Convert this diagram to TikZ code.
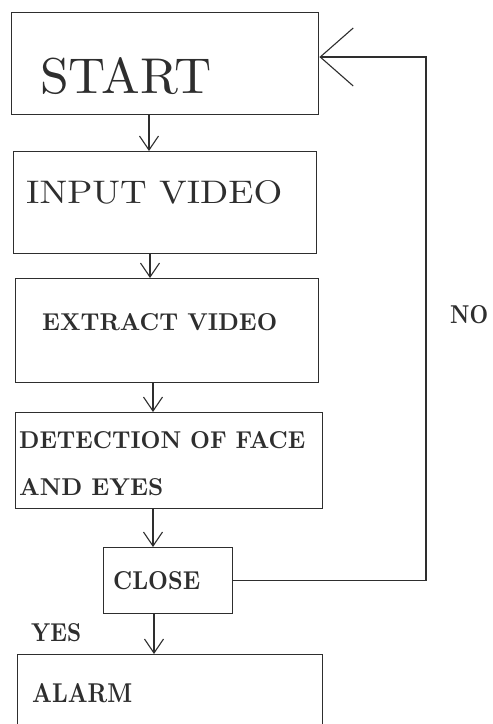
\documentclass[tikz,border=0pt]{standalone}
\usetikzlibrary{arrows.meta}
\definecolor{ink}{HTML}{2E2E2E}
% fit a one-line caption into a given width and cap height
\newcommand{\fitcap}[3]{\resizebox{#1pt}{#2pt}{#3}}
\tikzset{
  box/.style={draw=ink, line width=1.4pt, anchor=north west, inner sep=0pt},
  lbl/.style={anchor=base west, inner sep=0pt, text=ink},
  arr/.style={draw=ink, line width=1.3pt, -{Straight Barb[length=14pt,width=19pt,line width=1.1pt]}},
  backarr/.style={draw=ink, line width=1.3pt, -{Straight Barb[length=33pt,width=58pt,line width=1.1pt]}}
}
\begin{document}
\begin{tikzpicture}[x=1pt,y=-1pt]
  \clip (0,0) rectangle (493,724);
  \fill[white] (0,0) rectangle (493,724);

  % process boxes
  \node[box, minimum width=307pt, minimum height=102pt] (start)   at (11,12)  {};
  \node[box, minimum width=303pt, minimum height=102pt] (input)   at (13,151) {};
  \node[box, minimum width=303pt, minimum height=104pt] (extract) at (15,278) {};
  \node[box, minimum width=307pt, minimum height=96pt]  (detect)  at (15,412) {};
  \node[box, minimum width=129pt, minimum height=66pt]  (close)   at (103,547) {};
  \node[box, minimum width=305pt, minimum height=80pt]  (alarm)   at (17,654) {};

  % captions
  \node[lbl] (tstart)   at (40,93)   {\fitcap{171}{36}{START}};
  \node[lbl] (tinput)   at (26,203)  {\fitcap{256}{23}{INPUT VIDEO}};
  \node[lbl] (textract) at (42,330)  {\fitcap{235}{17}{\bfseries EXTRACT VIDEO}};
  \node[lbl] (tdet1)    at (19,448)  {\fitcap{286}{17}{\bfseries DETECTION OF FACE}};
  \node[lbl] (tdet2)    at (19,495)  {\fitcap{144}{17}{\bfseries AND EYES}};
  \node[lbl] (tclose)   at (113,589) {\fitcap{87}{18}{\bfseries CLOSE}};
  \node[lbl] (tyes)     at (31,641)  {\fitcap{50}{18}{\bfseries YES}};
  \node[lbl] (talarm)   at (32,702)  {\fitcap{100}{19}{\bfseries ALARM}};
  \node[lbl] (tno)      at (450,323) {\fitcap{38}{18}{\bfseries NO}};

  % columns of the downward connectors
  \coordinate (c1) at (149,0);
  \coordinate (c2) at (150,0);
  \coordinate (c3) at (153,0);
  \coordinate (c4) at (153,0);
  \coordinate (c5) at (154,0);

  \draw[arr] (start.south -| c1)   -- (input.north -| c1);
  \draw[arr] (input.south -| c2)   -- (extract.north -| c2);
  \draw[arr] (extract.south -| c3) -- (detect.north -| c3);
  \draw[arr] (detect.south -| c4)  -- (close.north -| c4);
  \draw[arr] (close.south -| c5)   -- (alarm.north -| c5);

  % NO branch back to the start
  \coordinate (loopR) at (426,57);
  \draw[backarr] (close.east) -| (loopR) -- (start.east |- loopR);
\end{tikzpicture}
\end{document}
